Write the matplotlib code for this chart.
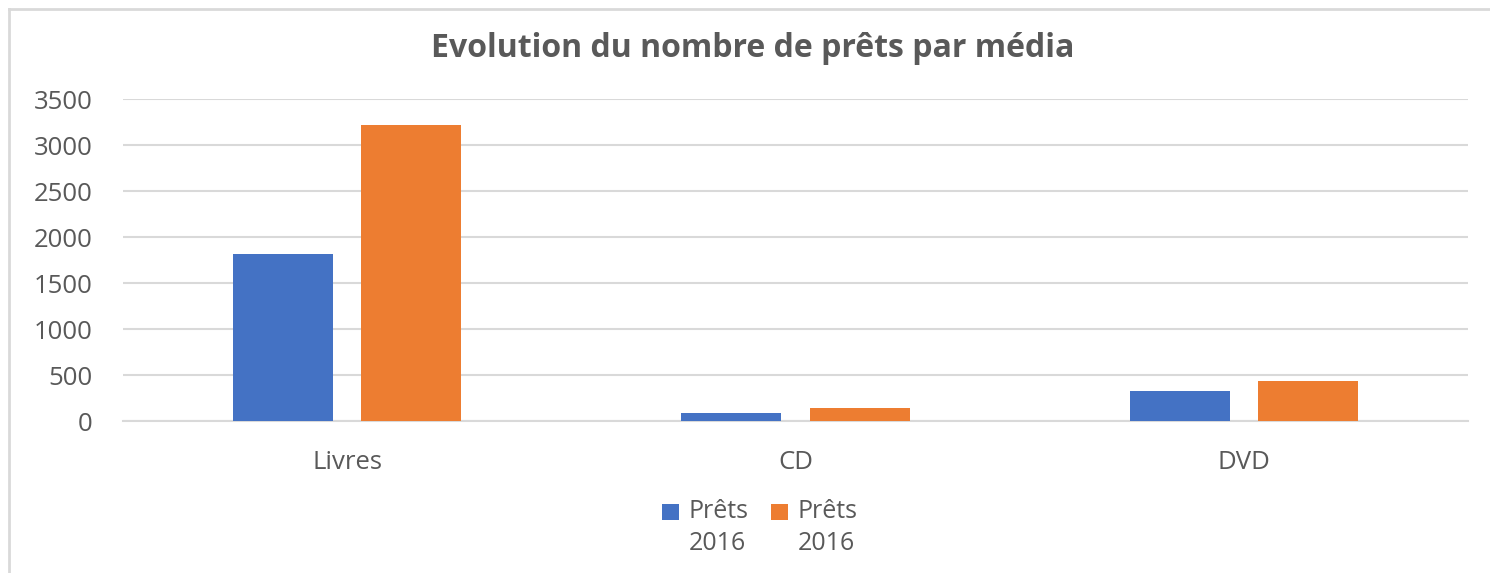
import matplotlib.pyplot as plt
from matplotlib.lines import Line2D
from matplotlib.patches import Patch, Rectangle
from matplotlib.legend_handler import HandlerPatch
import numpy as np

plt.rcParams['font.family'] = ['Open Sans', 'DejaVu Sans']

# === données ===
medias = ["Livres", "CD", "DVD"]
prets_a = [1815, 85, 330]
prets_b = [3220, 140, 440]
labels = ["Prêts\n2016", "Prêts\n2016"]
yticks = [0, 500, 1000, 1500, 2000, 2500, 3000, 3500]

blue = "#4472C4"
orange = "#ED7D31"
grey_txt = "#595959"
grid_col = "#D9D9D9"


# carré de légende aligné sur la première ligne du libellé
class TopSquare(HandlerPatch):
    def create_artists(self, legend, orig_handle, xdescent, ydescent,
                       width, height, fontsize, trans):
        s = 0.66 * fontsize
        p = Rectangle((-xdescent, -ydescent + height - s + 4), s, s,
                      facecolor=orig_handle.get_facecolor(), edgecolor="none",
                      transform=trans)
        return [p]


fig = plt.figure(figsize=(14.9, 5.73), dpi=100)
ax = fig.add_axes([0.0826, 0.265, 0.9026, 0.562])

x = np.arange(len(medias))
w = 0.223
ax.bar(x - 0.143, prets_a, w, color=blue, zorder=3)
ax.bar(x + 0.143, prets_b, w, color=orange, zorder=3)

ax.set_xlim(-0.5, len(medias) - 0.5)
ax.set_ylim(0, 3500)
ax.set_yticks(yticks)
ax.set_xticks(x)
ax.set_xticklabels(medias)
ax.yaxis.grid(True, color=grid_col, linewidth=1.5, zorder=0)
ax.tick_params(axis='both', length=0, labelsize=18.5, colors=grey_txt)
ax.tick_params(axis='y', pad=22)
ax.tick_params(axis='x', pad=21)
for s in ["top", "right", "left"]:
    ax.spines[s].set_visible(False)
ax.spines["bottom"].set_color(grid_col)
ax.spines["bottom"].set_linewidth(1.5)

fig.text(0.505, 0.915, "Evolution du nombre de prêts par média", ha="center",
         va="center", fontsize=23, fontweight="bold", color=grey_txt)

handles = [Patch(facecolor=blue), Patch(facecolor=orange)]
leg = fig.legend(handles, labels, loc="center", bbox_to_anchor=(0.51, 0.079), ncol=2,
                 frameon=False, fontsize=18, handlelength=0.7, handleheight=2.1,
                 handletextpad=0.35, columnspacing=0.9, labelcolor=grey_txt,
                 handler_map={Patch: TopSquare()})
for t in leg.get_texts():
    t.set_linespacing(1.35)

# cadre du graphique (haut et gauche seulement)
fig.add_artist(Line2D([0.006, 1.0], [0.984, 0.984], color="#D9D9D9", lw=2, transform=fig.transFigure))
fig.add_artist(Line2D([0.006, 0.006], [0.0, 0.984], color="#D9D9D9", lw=2, transform=fig.transFigure))

fig.savefig("out.png", dpi=100)
